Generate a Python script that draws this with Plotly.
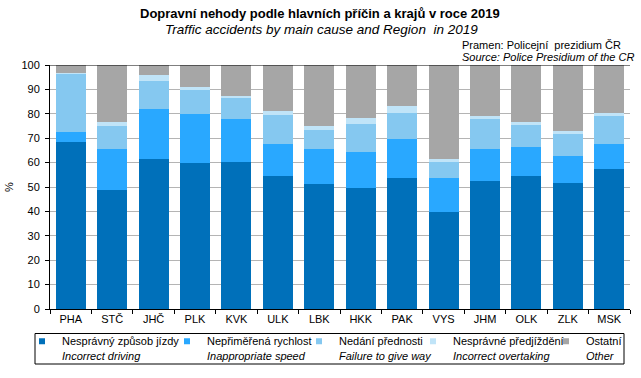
import plotly.graph_objects as go

regions = ["PHA", "STČ", "JHČ", "PLK", "KVK", "ULK", "LBK", "HKK", "PAK", "VYS", "JHM", "OLK", "ZLK", "MSK"]

incorrect_driving = [68.5, 48.8, 61.5, 59.9, 60.3, 54.5, 51.2, 49.6, 53.7, 39.7, 52.5, 54.5, 51.6, 57.4]
inappropriate_speed = [4.1, 16.8, 20.5, 20.1, 17.6, 13.2, 14.4, 14.8, 16.0, 14.0, 13.1, 11.9, 11.1, 10.3]
failure_give_way = [23.8, 9.5, 11.5, 9.9, 8.7, 11.9, 7.8, 11.5, 10.7, 6.6, 12.3, 9.1, 9.1, 11.5]
incorrect_overtaking = [0.2, 1.6, 2.5, 1.2, 0.8, 1.6, 1.7, 2.4, 2.9, 1.2, 1.3, 1.2, 1.2, 1.2]
other = [3.4, 23.3, 4.0, 8.9, 12.6, 18.8, 24.9, 21.7, 16.7, 38.5, 20.8, 23.3, 27.0, 19.6]

series_names = [
    "Nesprávný způsob jízdy<br><i>Incorrect driving</i>",
    "Nepřiměřená rychlost<br><i>Inappropriate speed</i>",
    "Nedání přednosti<br><i>Failure to give way</i>",
    "Nesprávné předjíždění<br><i>Incorrect overtaking</i>",
    "Ostatní<br><i>Other</i>",
]
series_values = [incorrect_driving, inappropriate_speed, failure_give_way, incorrect_overtaking, other]
series_colors = ["#0070BA", "#29A8FF", "#85C8F0", "#C0E4F8", "#A6A6A6"]

W, H = 641, 378
ML, MR, MT, MB = 50, 11, 65, 69
PW, PH = W - ML - MR, H - MT - MB


def px_x(px):
    return (px - ML) / PW


def px_y(py):
    return (H - MB - py) / PH


# legend text start positions (pixels)
legend_text_x = [61, 206, 338, 452, 585]

fig = go.Figure()
for name, vals, col in zip(series_names, series_values, series_colors):
    fig.add_trace(go.Bar(x=regions, y=vals, name=name, marker=dict(color=col, line=dict(width=0)),
                         showlegend=False))

legend_layouts = {}
for i, (name, col) in enumerate(zip(series_names, series_colors)):
    lid = "legend" if i == 0 else f"legend{i + 1}"
    fig.add_trace(go.Scatter(x=[None], y=[None], mode="markers", name=name, legend=lid,
                             marker=dict(symbol="square", size=6, color=col)))
    legend_layouts[lid] = dict(
        orientation="h", xref="container", yref="container",
        x=(legend_text_x[i] - 39) / W, xanchor="left",
        y=1 - 327.5 / H, yanchor="top",
        bgcolor="rgba(0,0,0,0)", borderwidth=0,
        font=dict(size=11), itemwidth=30, valign="top",
    )

font = "Liberation Sans, Arial, sans-serif"
fig.update_layout(
    width=W, height=H,
    barmode="stack", bargap=0.275,
    margin=dict(l=ML, r=MR, t=MT, b=MB),
    paper_bgcolor="white", plot_bgcolor="white",
    font=dict(family=font, size=11, color="black"),
    showlegend=True,
    xaxis=dict(showline=True, linecolor="black", linewidth=1, ticks="outside", tickson="boundaries",
               ticklen=4, tickcolor="black", showgrid=False, tickfont=dict(size=11), automargin=False),
    yaxis=dict(range=[0, 100], dtick=10, showline=True, linecolor="black", linewidth=1,
               ticks="outside", ticklen=4, tickcolor="black", gridcolor="#B4B4B4", gridwidth=1,
               title=dict(text="%", font=dict(size=11), standoff=5), zeroline=False,
               ticklabelstandoff=3, tickfont=dict(size=11), automargin=False),
    shapes=[
        dict(type="line", xref="paper", yref="y", x0=0, x1=1, y0=100, y1=100,
             line=dict(color="black", width=1)),
        dict(type="rect", xref="paper", yref="paper",
             x0=px_x(35), x1=px_x(624), y0=px_y(364), y1=px_y(333.5),
             line=dict(color="black", width=1), fillcolor="rgba(0,0,0,0)"),
    ],
    annotations=[
        dict(text="<b>Dopravní nehody podle hlavních příčin a krajů v roce 2019</b>", xref="paper", yref="paper",
             x=px_x(320), y=1.0, yshift=52, xanchor="center", yanchor="middle", showarrow=False,
             font=dict(size=13)),
        dict(text="<i>Traffic accidents by main cause and Region  in 2019</i>", xref="paper", yref="paper",
             x=px_x(321), y=1.0, yshift=36, xanchor="center", yanchor="middle", showarrow=False,
             font=dict(size=13.5)),
        dict(text="Pramen: Policejní  prezidium ČR", xref="paper", yref="paper",
             x=px_x(460), y=1.0, yshift=20, xanchor="left", yanchor="middle", showarrow=False,
             font=dict(size=11)),
        dict(text="<i>Source: Police Presidium of the CR</i>", xref="paper", yref="paper",
             x=px_x(460), y=1.0, yshift=8, xanchor="left", yanchor="middle", showarrow=False,
             font=dict(size=11)),
    ],
)
fig.update_layout(**legend_layouts)

fig.write_html("out.html", config={"displayModeBar": False},
               post_script="document.body.style.margin='0px';document.body.style.overflow='hidden';")
